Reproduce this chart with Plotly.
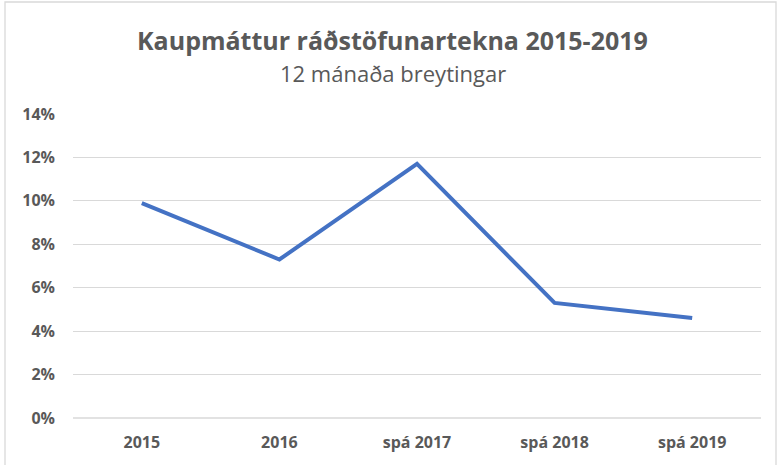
import plotly.graph_objects as go

categories = ["2015", "2016", "spá 2017", "spá 2018", "spá 2019"]
values = [9.9, 7.3, 11.7, 5.3, 4.6]
y_ticks = [0, 2, 4, 6, 8, 10, 12, 14]
y_tick_labels = [f"{v}%" for v in y_ticks]

W, H = 777, 465
L, R, T, B = 73, 16, 114, 47
pw, ph = W - L - R, H - T - B

def px(x):
    return (x - L) / pw

def py(y):
    return (H - B - y) / ph

fig = go.Figure()
fig.add_trace(go.Scatter(
    x=categories, y=values, mode="lines",
    line=dict(color="#4472C4", width=4),
    hoverinfo="skip",
))

grey = "#595959"
fig.update_layout(
    width=W, height=H,
    margin=dict(l=L, r=R, t=T, b=B),
    paper_bgcolor="white", plot_bgcolor="white",
    showlegend=False,
    font=dict(family="Open Sans", color=grey),
    xaxis=dict(
        type="category", range=[-0.5, 4.5], showgrid=False, zeroline=False,
        showline=False, ticks="",
        tickfont=dict(size=16, color=grey, family="Open Sans", weight="bold"),
        ticklabelstandoff=13,
    ),
    yaxis=dict(
        range=[0, 14], tickvals=y_ticks, ticktext=y_tick_labels,
        showgrid=True, gridcolor="#D9D9D9", gridwidth=1.3,
        zeroline=False, showline=False, ticks="",
        tickfont=dict(size=16, color=grey, family="Open Sans", weight="bold"),
        ticklabelstandoff=17,
    ),
    shapes=[dict(
        type="rect", xref="paper", yref="paper",
        x0=px(5), x1=px(776), y0=py(475), y1=py(2),
        line=dict(color="#D9D9D9", width=1.3), fillcolor="rgba(0,0,0,0)", layer="below",
    ), dict(
        type="line", xref="paper", yref="paper",
        x0=0, x1=1, y0=0, y1=0,
        line=dict(color="#D9D9D9", width=1.3), layer="below",
    )],
    annotations=[
        dict(text="<b>Kaupmáttur ráðstöfunartekna 2015-2019</b>", xref="paper", yref="paper",
             x=px(392), y=py(40), xanchor="center", yanchor="middle", showarrow=False,
             font=dict(size=25, color=grey, family="Open Sans")),
        dict(text="12 mánaða breytingar", xref="paper", yref="paper",
             x=px(393), y=py(73), xanchor="center", yanchor="middle", showarrow=False,
             font=dict(size=22, color=grey, family="Open Sans")),
    ],
)

fig.write_html("out.html", config={"displayModeBar": False},
               post_script="document.body.style.margin='0';")
